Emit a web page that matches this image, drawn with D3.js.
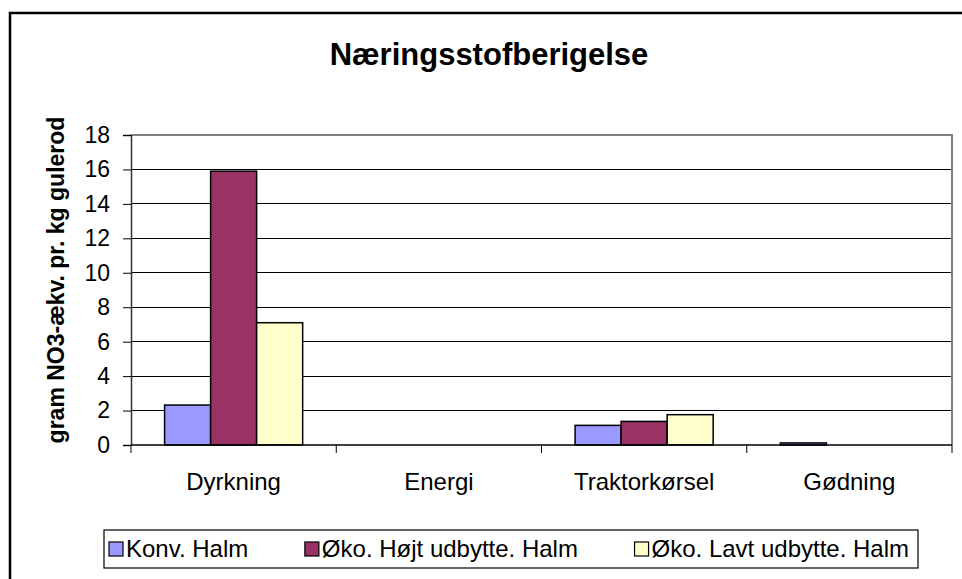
<!DOCTYPE html>
<html>
<head>
<meta charset="utf-8">
<script src="https://cdn.jsdelivr.net/npm/d3@7.9.0/dist/d3.min.js"></script>
<style>
  body { margin: 0; background: #fff; }
  svg { display: block; font-family: "Liberation Sans", Arial, sans-serif; }
</style>
</head>
<body>
<svg width="962" height="579"></svg>
<script>
// data
const categories = ['Dyrkning', 'Energi', 'Traktorkørsel', 'Gødning'];
const seriesNames = ['Konv. Halm', 'Øko. Højt udbytte. Halm', 'Øko. Lavt udbytte. Halm'];
const konvHalm = [2.32, 0, 1.14, 0.12];
const okoHoejt = [15.9, 0, 1.37, 0];
const okoLavt = [7.1, 0, 1.76, 0];
const yTicks = [0, 2, 4, 6, 8, 10, 12, 14, 16, 18];
const colors = ['#9999ff', '#993366', '#ffffcc'];

const seriesValues = [konvHalm, okoHoejt, okoLavt];

const svg = d3.select('svg');
const plot = { left: 131, right: 952, top: 135, bottom: 445 };

// outer chart frame (runs off the right and bottom edge)
svg.append('rect')
  .attr('x', 10).attr('y', 13)
  .attr('width', 980).attr('height', 600)
  .attr('fill', 'none')
  .attr('stroke', '#000')
  .attr('stroke-width', 2.5);

svg.append('text')
  .attr('x', 489).attr('y', 65)
  .attr('text-anchor', 'middle')
  .attr('font-size', 31)
  .attr('font-weight', 'bold')
  .text('Næringsstofberigelse');

let y = d3.scaleLinear().domain([0, 18]).range([plot.bottom, plot.top]);
let x0 = d3.scaleBand().domain(categories).range([plot.left, plot.right]);
let x1 = d3.scaleBand().domain(seriesNames).range([0, x0.bandwidth()]).paddingOuter(0.73);

// gridlines
svg.append('g')
  .selectAll('line')
  .data(yTicks.filter(t => t > 0 && t < 18))
  .join('line')
  .attr('x1', plot.left).attr('x2', plot.right)
  .attr('y1', d => y(d)).attr('y2', d => y(d))
  .attr('stroke', '#000')
  .attr('shape-rendering', 'crispEdges');

// plot border top + right in grey
svg.append('path')
  .attr('d', `M${plot.left},${y(18)}H${plot.right}V${plot.bottom}`)
  .attr('fill', 'none')
  .attr('stroke', '#808080')
  .attr('stroke-width', 2)
  .attr('shape-rendering', 'crispEdges');

// bars
let groups = svg.append('g')
  .selectAll('g')
  .data(categories)
  .join('g')
  .attr('transform', d => `translate(${x0(d)},0)`);

groups.selectAll('rect')
  .data((c, i) => seriesNames.map((s, j) => ({ series: s, idx: j, value: seriesValues[j][i] })))
  .join('rect')
  .filter(d => d.value > 0)
  .attr('x', d => x1(d.series))
  .attr('y', d => y(d.value))
  .attr('width', x1.bandwidth())
  .attr('height', d => y(0) - y(d.value))
  .attr('fill', d => colors[d.idx])
  .attr('stroke', '#000')
  .attr('stroke-width', 1.5);

// y axis
let yAxis = svg.append('g')
  .attr('transform', `translate(${plot.left},0)`)
  .call(d3.axisLeft(y).tickValues(yTicks).tickSize(8).tickPadding(13));
yAxis.select('.domain').attr('stroke', '#333').attr('stroke-width', 1.5);
yAxis.selectAll('.tick line').attr('stroke', '#000');
yAxis.selectAll('text').attr('font-size', 23).attr('fill', '#000')
  .attr('font-family', '"Liberation Sans", Arial, sans-serif');

// x axis with ticks between categories
let xAxis = svg.append('g').attr('transform', `translate(0,${plot.bottom})`);
xAxis.append('line')
  .attr('x1', plot.left).attr('x2', plot.right)
  .attr('stroke', '#000').attr('stroke-width', 1.5);
xAxis.selectAll('.sep')
  .data(categories.map(c => x0(c)).concat([plot.right]))
  .join('line')
  .attr('class', 'sep')
  .attr('x1', d => d).attr('x2', d => d)
  .attr('y1', 0).attr('y2', 8)
  .attr('stroke', '#000');
xAxis.selectAll('.lbl')
  .data(categories)
  .join('text')
  .attr('class', 'lbl')
  .attr('x', d => x0(d) + x0.bandwidth() / 2)
  .attr('y', 45)
  .attr('text-anchor', 'middle')
  .attr('font-size', 24)
  .text(d => d);

// y title
svg.append('text')
  .attr('transform', `translate(64,280) rotate(-90)`)
  .attr('text-anchor', 'middle')
  .attr('font-size', 23)
  .attr('font-weight', 'bold')
  .text('gram NO3-ækv. pr. kg gulerod');

// legend
const legendLeft = 104, legendRight = 918;
let legend = svg.append('g');
legend.append('rect')
  .attr('x', legendLeft).attr('y', 530)
  .attr('width', legendRight - legendLeft).attr('height', 38)
  .attr('fill', '#fff').attr('stroke', '#000').attr('stroke-width', 1.2);
let items = seriesNames.map((s, i) => {
  let g = legend.append('g');
  g.append('rect')
    .attr('x', 0).attr('y', 542)
    .attr('width', 14).attr('height', 14)
    .attr('fill', colors[i]).attr('stroke', '#000').attr('stroke-width', 1.2);
  let t = g.append('text')
    .attr('x', 17).attr('y', 557)
    .attr('font-size', 24)
    .text(s);
  return { g, w: 17 + t.node().getComputedTextLength() };
});
let total = d3.sum(items, d => d.w);
let gap = (legendRight - legendLeft - 14 - total) / (items.length - 1);
let lx = legendLeft + 5;
items.forEach(d => {
  d.g.attr('transform', `translate(${lx},0)`);
  lx += d.w + gap;
});
</script>
</body>
</html>
